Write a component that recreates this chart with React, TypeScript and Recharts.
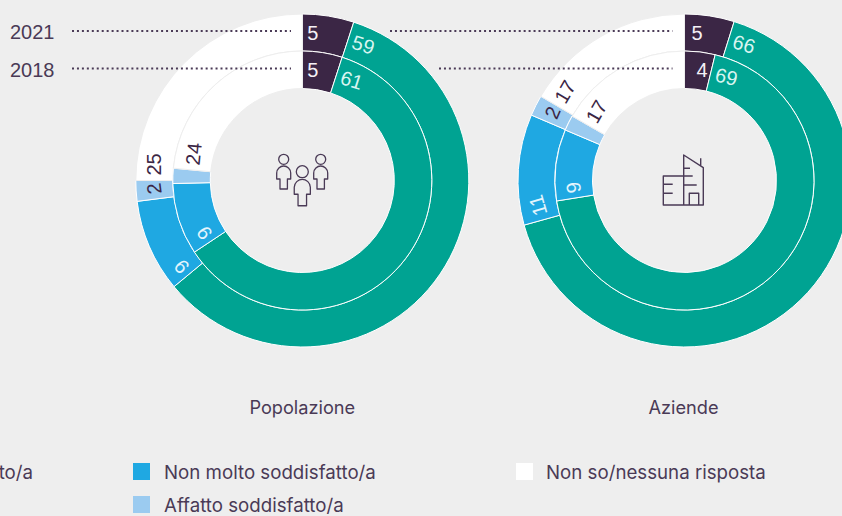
import { PieChart, Pie, Cell } from 'recharts'

const categories = ['Molto soddisfatto/a', 'Abbastanza soddisfatto/a', 'Non molto soddisfatto/a', 'Affatto soddisfatto/a', 'Non so/nessuna risposta']
const years = ['2021', '2018']
const popolazione2021 = [5, 59, 9, 2, 25]
const popolazione2018 = [5, 61, 9, 1.9, 23.6]
const aziende2021 = [4.8, 65.6, 10.7, 2, 16.5]
const aziende2018 = [3.8, 68.6, 8.9, 1.9, 16.7]

const COLORS = ['#3b2645', '#00a392', '#1fa8e2', '#9bcbf0', '#ffffff']
const LABEL_COLORS = ['#f4f0f6', '#d8f5f0', '#e4f5fd', '#3b2645', '#3b2645']
const INK = '#4a3a56'
const BG = '#eeeeee'
const NUM_FONT = '"Liberation Sans", sans-serif'
const TEXT_FONT = 'Inter, sans-serif'
const CY = 180.5

const toRows = (values: number[]) => values.map((value, i) => ({ name: categories[i], value }))

// labels sit just after the start of each slice and turn with it
const sliceLabel = (firstGap: number) => (p: any) => {
  if (p.value < 2) return null
  const r = (p.innerRadius + p.outerRadius) / 2
  const clock = 90 - p.startAngle
  const gap = p.index === 0 ? firstGap : 5
  const a = ((clock + (gap / r) * (180 / Math.PI)) * Math.PI) / 180
  const x = p.cx + r * Math.sin(a)
  const y = p.cy - r * Math.cos(a)
  return (
    <text
      key={p.index}
      x={x}
      y={y}
      textAnchor="start"
      dominantBaseline="central"
      fontFamily={NUM_FONT}
      fontSize={20}
      fill={LABEL_COLORS[p.index]}
      transform={`rotate(${clock} ${x} ${y})`}
    >
      {Math.round(p.value)}
    </text>
  )
}

function Ring({ values, cx, inner, outer, firstGap = 5 }: { values: number[]; cx: number; inner: number; outer: number; firstGap?: number }) {
  return (
    <Pie
      data={toRows(values)}
      dataKey="value"
      cx={cx}
      cy={CY}
      innerRadius={inner}
      outerRadius={outer}
      startAngle={90}
      endAngle={-270}
      paddingAngle={0}
      label={sliceLabel(firstGap)}
      labelLine={false}
      isAnimationActive={false}
    >
      {values.map((_, i) => (
        <Cell key={i} fill={COLORS[i]} stroke={i === 4 ? BG : '#ffffff'} strokeWidth={1} />
      ))}
    </Pie>
  )
}

const PERSON = 'M-3.7 23V13H-7V7C-7 3-3.5 0 0 0C3.5 0 7 3 7 7V13H3.7V23Z'

function PeopleIcon() {
  const g = { fill: 'none', stroke: INK, strokeWidth: 1.3, strokeLinejoin: 'round' as const }
  return (
    <g {...g}>
      <circle cx={283.7} cy={159.3} r={5} />
      <circle cx={320.7} cy={159.3} r={5} />
      <circle cx={302.3} cy={171.7} r={6} />
      <path d={PERSON} transform="translate(283.7 166)" />
      <path d={PERSON} transform="translate(320.7 166)" />
      <path d={PERSON} transform="translate(302.3 179.3) scale(1.15)" vectorEffect="non-scaling-stroke" />
    </g>
  )
}

function BuildingIcon() {
  return (
    <path
      fill="none"
      stroke={INK}
      strokeWidth={1.4}
      strokeLinejoin="round"
      d="M683.7 176H663.3V205H703.3V167.7L683.7 155V205M700.7 158.3V166M683.7 168.3H690M683.7 176H692.7M683.7 185H696.7M663.3 184.3H672.7M663.3 193.3H672.7M689.3 205V193.3H698.7V205"
    />
  )
}

function Swatch({ x, y, color }: { x: number; y: number; color: string }) {
  return <div style={{ position: 'absolute', left: x, top: y, width: 17, height: 17, background: color }} />
}

function LegendText({ x, y, children }: { x: number; y: number; children: string }) {
  return <div style={{ position: 'absolute', left: x, top: y, lineHeight: '20px', whiteSpace: 'nowrap', fontFamily: TEXT_FONT, fontSize: 18.7, color: INK }}>{children}</div>
}

export default function App() {
  return (
    <div style={{ position: 'absolute', left: 0, top: 0, width: 842, height: 516, background: BG, overflow: 'hidden' }}>
      <PieChart width={842} height={516} margin={{ top: 0, right: 0, bottom: 0, left: 0 }}>
        {Ring({ values: popolazione2021, cx: 302.3, inner: 129.5, outer: 166.5 })}
        {Ring({ values: popolazione2018, cx: 302.3, inner: 92, outer: 129.5 })}
        {Ring({ values: aziende2021, cx: 684.5, inner: 129.5, outer: 166.5, firstGap: 7 })}
        {Ring({ values: aziende2018, cx: 684.5, inner: 92, outer: 129.5, firstGap: 12 })}
        <text x={10} y={32} dominantBaseline="central" fontFamily={NUM_FONT} fontSize={20} fill={INK}>{years[0]}</text>
        <text x={10} y={69.5} dominantBaseline="central" fontFamily={NUM_FONT} fontSize={20} fill={INK}>{years[1]}</text>
        <PeopleIcon />
        <BuildingIcon />
        <text x={302.3} y={407} textAnchor="middle" dominantBaseline="central" fontFamily={TEXT_FONT} fontSize={18.2} fill={INK}>Popolazione</text>
        <text x={683.5} y={407} textAnchor="middle" dominantBaseline="central" fontFamily={TEXT_FONT} fontSize={18.2} fill={INK}>Aziende</text>
      </PieChart>
      {/* leader lines have to sit above the rings */}
      <svg width={842} height={516} style={{ position: 'absolute', left: 0, top: 0, pointerEvents: 'none' }}>
        <g stroke={INK} strokeWidth={2} strokeDasharray="2 2.95" fill="none">
          <line x1={72} x2={291} y1={31} y2={31} />
          <line x1={72} x2={291} y1={68.5} y2={68.5} />
          <line x1={390} x2={672.5} y1={31} y2={31} />
          <line x1={439} x2={672.5} y1={68.5} y2={68.5} />
        </g>
      </svg>
      <div style={{ position: 'absolute', right: 809, top: 463, lineHeight: '20px', whiteSpace: 'nowrap', fontFamily: TEXT_FONT, fontSize: 18.7, color: INK }}>{categories[1]}</div>
      <Swatch x={133} y={463} color={COLORS[2]} />
      <LegendText x={164} y={463}>{categories[2]}</LegendText>
      <Swatch x={133} y={496} color={COLORS[3]} />
      <LegendText x={164} y={496}>{categories[3]}</LegendText>
      <Swatch x={516} y={463} color={COLORS[4]} />
      <LegendText x={546} y={463}>{categories[4]}</LegendText>
    </div>
  )
}
